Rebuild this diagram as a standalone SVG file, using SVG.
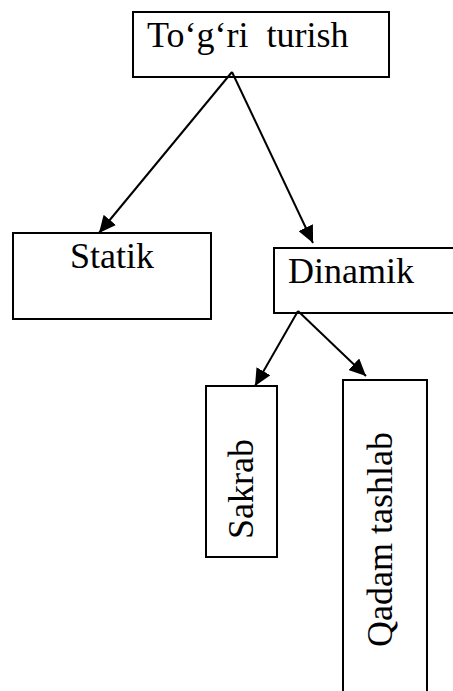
<svg xmlns="http://www.w3.org/2000/svg" width="453" height="691" viewBox="0 0 453 691">
  <style>
    .box { fill: #fff; stroke: #000; stroke-width: 2; }
    .lbl { font-family: 'Liberation Serif', 'Times New Roman', 'DejaVu Serif', serif; font-size: 36px; fill: #000; white-space: pre; }
    .link { stroke: #000; stroke-width: 2; fill: none; marker-end: url(#arrow); }
  </style>
  <defs>
    <marker id="arrow" markerUnits="userSpaceOnUse" markerWidth="17" markerHeight="16" viewBox="0 0 17 16" refX="17" refY="8" orient="auto">
      <path d="M0,0 L17,8 L0,16 Z" fill="#000"/>
    </marker>
  </defs>

  <g id="node-togri-turish">
    <rect class="box" x="133" y="12" width="256" height="65"/>
    <text class="lbl" x="147" y="47" xml:space="preserve" font-family="Liberation Serif, serif">To‘g‘ri  turish</text>
  </g>

  <g id="node-statik">
    <rect class="box" x="13" y="233" width="198" height="86"/>
    <text class="lbl" x="112" y="268" text-anchor="middle">Statik</text>
  </g>

  <g id="node-dinamik">
    <rect class="box" x="274" y="248" width="190" height="65"/>
    <text class="lbl" x="288" y="283">Dinamik</text>
  </g>

  <g id="node-sakrab">
    <rect class="box" x="206" y="386" width="71" height="171"/>
    <text class="lbl" transform="translate(253,539) rotate(-90)">Sakrab</text>
  </g>

  <g id="node-qadam-tashlab">
    <rect class="box" x="343" y="380" width="84" height="330"/>
    <text class="lbl" transform="translate(392,647) rotate(-90)">Qadam tashlab</text>
  </g>

  <g id="connectors">
    <line class="link" x1="232" y1="72" x2="99" y2="233"/>
    <line class="link" x1="232" y1="72" x2="313" y2="243"/>
    <line class="link" x1="298" y1="311" x2="255" y2="386"/>
    <line class="link" x1="298" y1="311" x2="366" y2="376"/>
  </g>
</svg>
